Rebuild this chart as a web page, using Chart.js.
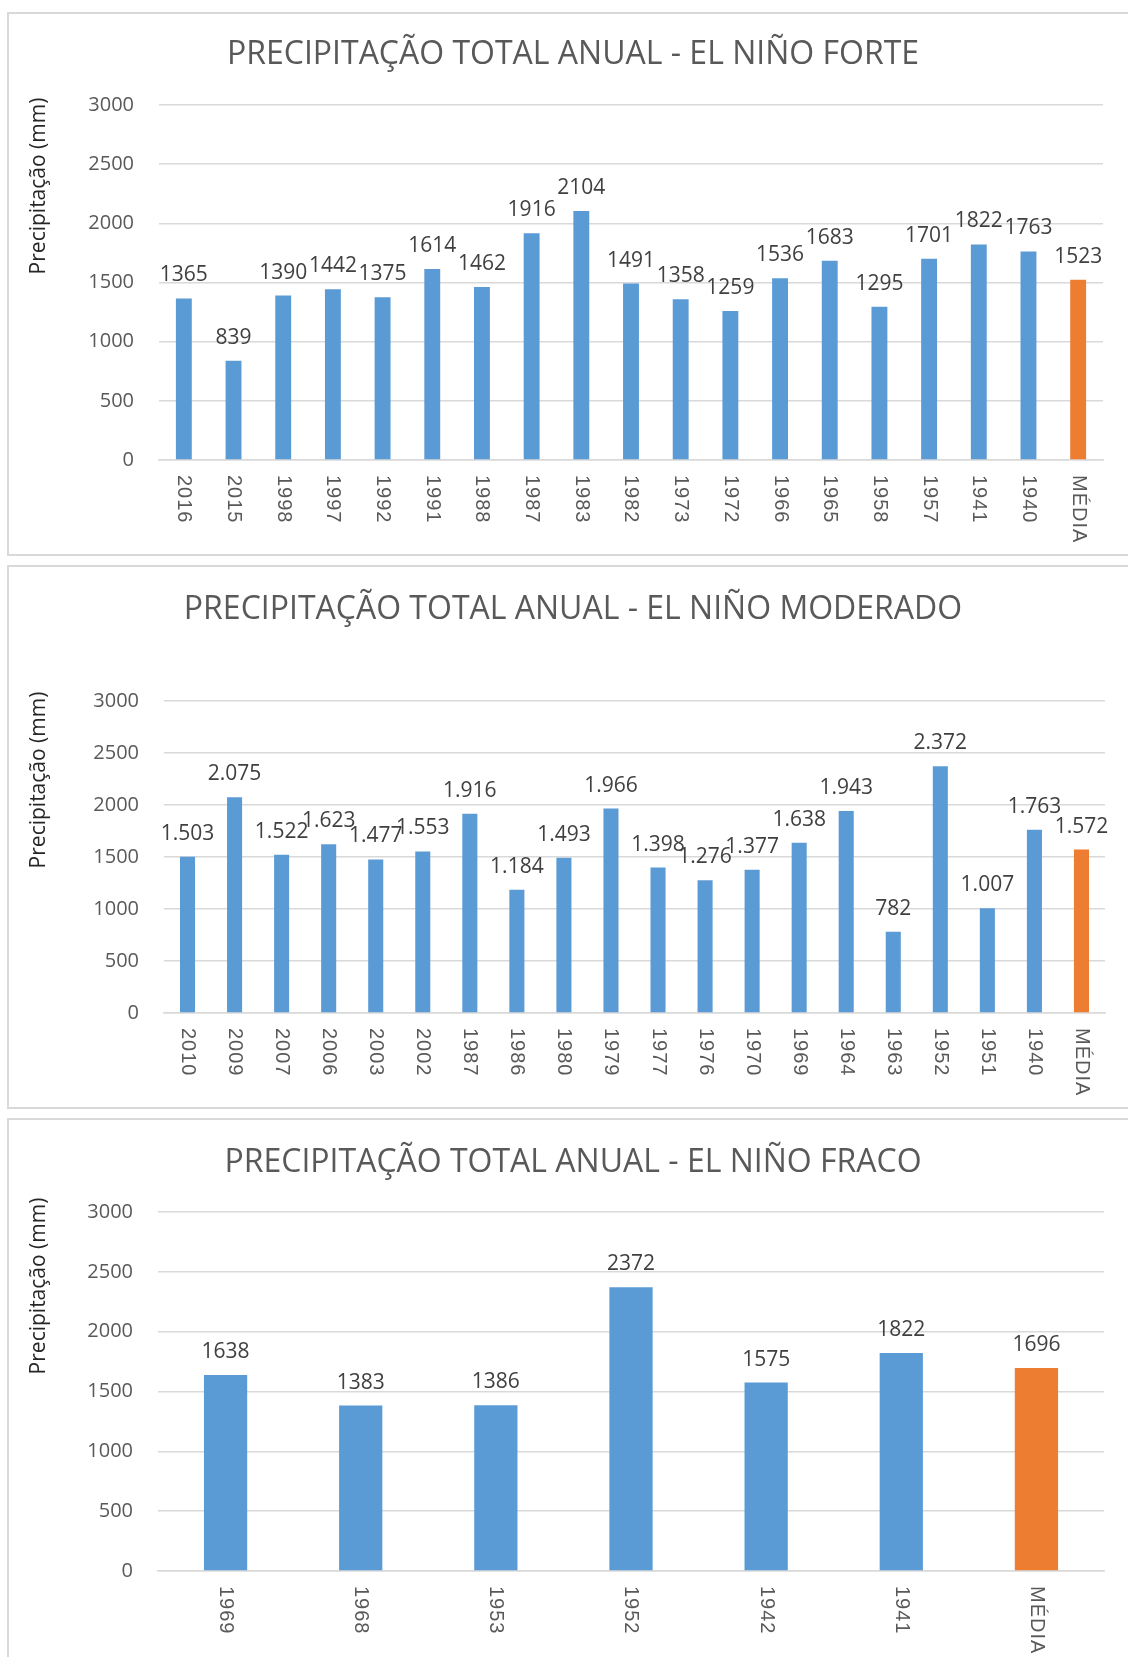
<!DOCTYPE html>
<html lang="pt-BR">
<head>
<meta charset="utf-8">
<title>Precipitação total anual - El Niño</title>
<script src="https://cdn.jsdelivr.net/npm/chart.js@4.4.1/dist/chart.umd.min.js"></script>
<style>
  html, body { margin: 0; padding: 0; background: #fff; }
  body { position: relative; width: 1128px; height: 1657px; overflow: hidden; }
  .panel { position: absolute; left: 7px; width: 1140px; border: 2px solid #d9d9d9; box-sizing: border-box; }
  canvas { position: absolute; left: 0; }
</style>
</head>
<body>
<div class="panel" style="top:12px;height:544px"></div>
<div class="panel" style="top:565px;height:544px"></div>
<div class="panel" style="top:1118px;height:560px"></div>
<canvas id="chartForte" width="1128" height="544" style="top:12px"></canvas>
<canvas id="chartModerado" width="1128" height="543" style="top:565px"></canvas>
<canvas id="chartFraco" width="1128" height="539" style="top:1118px"></canvas>

<script>
// --- data ---
const forteYears = ['2016', '2015', '1998', '1997', '1992', '1991', '1988', '1987', '1983', '1982',
  '1973', '1972', '1966', '1965', '1958', '1957', '1941', '1940', 'MÉDIA'];
const forteValues = [1365, 839, 1390, 1442, 1375, 1614, 1462, 1916, 2104, 1491,
  1358, 1259, 1536, 1683, 1295, 1701, 1822, 1763, 1523];

const moderadoYears = ['2010', '2009', '2007', '2006', '2003', '2002', '1987', '1986', '1980', '1979',
  '1977', '1976', '1970', '1969', '1964', '1963', '1952', '1951', '1940', 'MÉDIA'];
const moderadoValues = [1503, 2075, 1522, 1623, 1477, 1553, 1916, 1184, 1493, 1966,
  1398, 1276, 1377, 1638, 1943, 782, 2372, 1007, 1763, 1572];

const fracoYears = ['1969', '1968', '1953', '1952', '1942', '1941', 'MÉDIA'];
const fracoValues = [1638, 1383, 1386, 2372, 1575, 1822, 1696];

const yTickValues = [0, 500, 1000, 1500, 2000, 2500, 3000];

const BLUE = '#5b9bd5';
const ORANGE = '#ed7d31';
const GRID = '#d9d9d9';
const TEXT = '#595959';

/**
 * Draws title, rotated axis title, vertical year labels and value labels
 */
const textPlugin = {
  id: 'excelText',
  afterDraw(chart, args, opts) {
    const { ctx, chartArea } = chart;
    const xScale = chart.scales.x;
    ctx.save();

    // chart title
    ctx.fillStyle = TEXT;
    ctx.font = '400 32px "Open Sans"';
    ctx.textAlign = 'center';
    ctx.textBaseline = 'middle';
    ctx.fillText(opts.title, 573, opts.titleY);

    // y axis title
    ctx.save();
    ctx.translate(39, opts.axisTitleY);
    ctx.rotate(-Math.PI / 2);
    ctx.fillStyle = '#262626';
    ctx.font = '400 21px "Open Sans"';
    ctx.fillText('Precipitação (mm)', 0, 0);
    ctx.restore();

    // category labels, read top to bottom
    ctx.fillStyle = TEXT;
    ctx.font = '400 20px "Liberation Sans"';
    ctx.letterSpacing = '1px';
    ctx.textAlign = 'left';
    chart.data.labels.forEach((lab, i) => {
      ctx.save();
      ctx.translate(xScale.getPixelForValue(i), chartArea.bottom + 15);
      ctx.rotate(Math.PI / 2);
      ctx.fillText(lab, 0, 0);
      ctx.restore();
    });
    ctx.letterSpacing = '0px';

    // value labels above bars
    ctx.fillStyle = '#404040';
    ctx.font = '400 21px "Open Sans"';
    ctx.textBaseline = 'alphabetic';
    ctx.textAlign = 'center';
    const meta = chart.getDatasetMeta(0);
    meta.data.forEach((bar, i) => {
      ctx.fillText(opts.format(chart.data.datasets[0].data[i]), bar.x, bar.y - 17);
    });
    ctx.restore();
  }
};

function makeChart(id, labels, values, box, title, format) {
  const canvas = document.getElementById(id);
  const yWidth = 100;
  const colors = labels.map(l => (l === 'MÉDIA' ? ORANGE : BLUE));
  return new Chart(canvas.getContext('2d'), {
    type: 'bar',
    data: {
      labels,
      datasets: [{ data: values, backgroundColor: colors, barPercentage: 0.32, categoryPercentage: 1 }]
    },
    options: {
      responsive: false,
      animation: false,
      devicePixelRatio: 1,
      layout: {
        padding: {
          left: box.left - yWidth,
          right: canvas.width - box.right,
          top: box.top,
          bottom: canvas.height - box.bottom
        }
      },
      plugins: {
        legend: { display: false },
        tooltip: { enabled: false },
        excelText: { title, titleY: box.titleY, axisTitleY: box.axisTitleY, format }
      },
      scales: {
        x: {
          grid: { display: false },
          border: { display: true, color: GRID, width: 1.5 },
          ticks: { display: false },
          afterFit: s => { s.height = 0; }
        },
        y: {
          min: 0,
          max: 3000,
          afterBuildTicks: s => { s.ticks = yTickValues.map(v => ({ value: v })); },
          afterFit: s => { s.width = yWidth; },
          grid: { color: GRID, lineWidth: 1.5, drawTicks: false },
          border: { display: false },
          ticks: {
            color: TEXT,
            padding: 25,
            font: { family: 'Open Sans', size: 20 },
            callback: v => String(v)
          }
        }
      }
    },
    plugins: [textPlugin]
  });
}

document.addEventListener('DOMContentLoaded', () => {
  const plain = v => String(v);
  const dotted = v => v.toLocaleString('pt-BR');

  makeChart('chartForte', forteYears, forteValues,
    { left: 159, right: 1103, top: 93, bottom: 448, titleY: 43, axisTitleY: 174 },
    'PRECIPITAÇÃO TOTAL ANUAL - EL NIÑO FORTE', plain);

  makeChart('chartModerado', moderadoYears, moderadoValues,
    { left: 164, right: 1105, top: 136, bottom: 448, titleY: 45, axisTitleY: 215 },
    'PRECIPITAÇÃO TOTAL ANUAL - EL NIÑO MODERADO', dotted);

  makeChart('chartFraco', fracoYears, fracoValues,
    { left: 158, right: 1104, top: 94, bottom: 453, titleY: 45, axisTitleY: 168 },
    'PRECIPITAÇÃO TOTAL ANUAL - EL NIÑO FRACO', plain);
});
</script>
</body>
</html>
